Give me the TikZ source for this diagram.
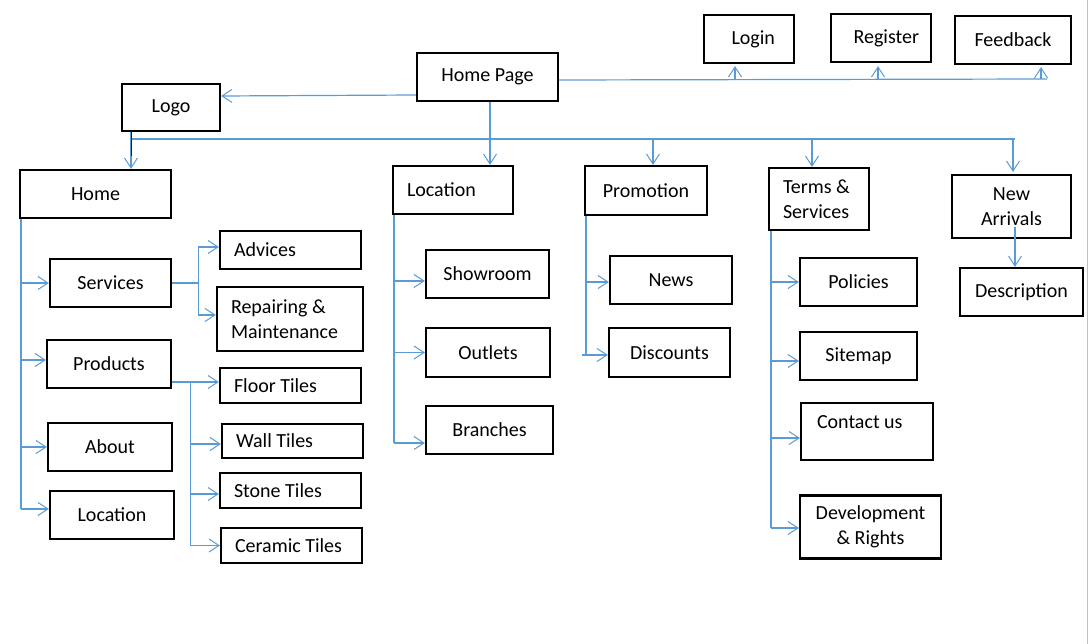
\documentclass[tikz,border=0pt]{standalone}
\usepackage{fontspec}
\setmainfont{Carlito}
\usetikzlibrary{arrows.meta, positioning}
\definecolor{linkblue}{HTML}{5B9BD5}

\begin{document}
\begin{tikzpicture}[x=1pt, y=-1pt,
		box/.style={draw, line width=2.2pt, inner sep=0pt, align=center},
		leftbox/.style={box, align=flush left, inner xsep=14pt, text width=#1},
		trunk/.style={draw=linkblue, line width=1.2pt},
		link/.style={trunk, -{Straight Barb[length=10pt, width=13pt, line width=1pt]}},
	]
	\fontsize{20}{25}\selectfont
	\useasboundingbox (0, 0) rectangle (1090, 644);
	\draw[black!25, line width=1.5pt] (1087.5, 0) -- (1087.5, 644);

	% top row
	\node[box, minimum width=141pt, minimum height=48pt] at (487.5, 77) (homepage) {Home Page};
	\node[box, minimum width=98pt, minimum height=47pt] at (171, 107.5) (logo) {Logo};
	\node[box, align=flush right, inner xsep=19pt, text width=52pt, minimum height=48pt] at (749, 39) (login) {Login};
	\node[box, align=flush right, inner xsep=12pt, text width=76pt, minimum height=48pt] at (881, 38) (register) {Register};
	\node[box, minimum width=116pt, minimum height=48pt] at (1013, 40) (feedback) {Feedback};

	% main sections
	\node[box, minimum width=151pt, minimum height=48pt] at (95.5, 194) (home) {Home};
	\node[leftbox=92pt, minimum height=48pt] at (453, 190) (loc-main) {Location};
	\node[box, minimum width=122pt, minimum height=49pt] at (646, 190.5) (promo) {Promotion};
	\node[leftbox=72pt, minimum height=62pt] at (819, 199) (terms) {Terms \&\\Services};
	\node[box, minimum width=119pt, minimum height=63pt] at (1011.5, 206.5) (new-arr) {New\\Arrivals};
	\node[box, minimum width=123pt, minimum height=48pt] at (1021.5, 292) (desc) {Description};

	% home
	\node[box, minimum width=121pt, minimum height=48pt] at (110.5, 283) (services) {Services};
	\node[box, minimum width=124pt, minimum height=48pt] at (109, 364) (products) {Products};
	\node[box, minimum width=124pt, minimum height=48pt] at (110, 447) (about) {About};
	\node[box, minimum width=124pt, minimum height=48pt] at (112, 515) (loc-home) {Location};
	\node[leftbox=113pt, minimum height=38pt] at (290.5, 250) (advices) {Advices};
	\node[leftbox=118pt, minimum height=64pt] at (290, 319) (repair) {Repairing \&\\Maintenance};
	\node[leftbox=113pt, minimum height=35pt] at (290.5, 385.5) (floor) {Floor Tiles};
	\node[leftbox=113pt, minimum height=34pt] at (292.5, 441) (wall) {Wall Tiles};
	\node[leftbox=113pt, minimum height=35pt] at (290.5, 490.5) (stone) {Stone Tiles};
	\node[leftbox=113pt, minimum height=35pt] at (291.5, 545.5) (ceramic) {Ceramic Tiles};

	% location, promotion
	\node[box, minimum width=123pt, minimum height=48pt] at (487.5, 274) (showroom) {Showroom};
	\node[box, minimum width=124pt, minimum height=49pt] at (488, 352.5) (outlets) {Outlets};
	\node[box, minimum width=127pt, minimum height=48pt] at (489.5, 430) (branches) {Branches};
	\node[box, minimum width=122pt, minimum height=48pt] at (671, 280) (news) {News};
	\node[box, minimum width=121pt, minimum height=49pt] at (669.5, 352.5) (discounts) {Discounts};

	% terms
	\node[box, minimum width=117pt, minimum height=48pt] at (858.5, 282) (policies) {Policies};
	\node[box, minimum width=117pt, minimum height=48pt] at (858.5, 356) (sitemap) {Sitemap};
	\node[leftbox=100pt, inner xsep=16pt, text depth=18pt, minimum height=57pt] at (867, 431.5) (contact) {Contact us};
	\node[box, minimum width=141pt, minimum height=63pt] at (870.5, 527) (devel) {Development\\\& Rights};

	% entry points of the links
	\coordinate (products-in) at ([yshift=4pt]products.west);
	\coordinate (loc-home-in) at ([yshift=6pt]loc-home.west);
	\coordinate (advices-in) at ([yshift=3pt]advices.west);
	\coordinate (repair-in) at ([yshift=4pt]repair.west);
	\coordinate (wall-in) at ([yshift=-3pt]wall.west);
	\coordinate (stone-in) at ([yshift=-3.5pt]stone.west);
	\coordinate (showroom-in) at ([yshift=-7pt]showroom.west);
	\coordinate (branches-in) at ([yshift=-13pt]branches.west);
	\coordinate (news-in) at ([yshift=-2pt]news.west);
	\coordinate (discounts-in) at ([yshift=-2.5pt]discounts.west);
	\coordinate (sitemap-in) at ([yshift=-5pt]sitemap.west);
	\coordinate (contact-in) at ([yshift=-6.5pt]contact.west);
	\coordinate (devel-in) at ([yshift=-1pt]devel.west);

	% links from home page
	\draw[link] ([yshift=-18pt]homepage.west) -- ([yshift=11.5pt]logo.east);
	\coordinate (top-end) at ([xshift=488pt, yshift=-2pt]homepage.east);
	\draw[trunk] ([yshift=-3pt]homepage.east) -- (top-end);
	\draw[link] ([xshift=-14pt]login.south |- top-end) -- ([xshift=-14pt, yshift=-2pt]login.south);
	\draw[link] ([xshift=-3pt]register.south |- top-end) -- ([xshift=-3pt, yshift=-3pt]register.south);
	\draw[link] ([xshift=28pt]feedback.south |- top-end) -- ([xshift=28pt, yshift=-2pt]feedback.south);
	\draw[link] ([xshift=2.5pt]homepage.south) -- ([xshift=37pt]loc-main.north);

	% bus under logo
	\coordinate (bus) at ([xshift=-40pt, yshift=-7pt]logo.south);
	\draw[trunk] (bus) -- ([xshift=3.5pt]new-arr.north |- bus);
	\draw[link] ([xshift=-40pt]logo.south) -- ([xshift=35.5pt]home.north);
	\draw[black!80!brown, line width=1pt] ([xshift=-40pt]logo.south) -- ++(0, 24);
	\draw[link] ([xshift=7pt]promo.north |- bus) -- ([xshift=7pt]promo.north);
	\draw[link] ([xshift=-7pt]terms.north |- bus) -- ([xshift=-7pt]terms.north);
	\draw[link] ([xshift=1.5pt]new-arr.north |- bus) -- ([xshift=1.5pt, yshift=2pt]new-arr.north);
	\draw[link] ([xshift=3.5pt, yshift=-20.5pt]new-arr.center) -- ([xshift=-6.5pt]desc.north);

	% home tree
	\coordinate (home-trunk) at ([xshift=-74.5pt]home.south);
	\draw[trunk] (home-trunk) -- (home-trunk |- loc-home-in);
	\draw[link] (home-trunk |- services.west) -- (services.west);
	\draw[link] (home-trunk |- products-in) -- (products-in);
	\draw[link] (home-trunk |- about.west) -- (about.west);
	\draw[link] (home-trunk |- loc-home-in) -- (loc-home-in);

	\coordinate (svc-fork) at ([xshift=26pt]services.east);
	\draw[link] (services.east) -| (svc-fork |- advices-in) -- (advices-in);
	\draw[link] (svc-fork) |- (repair-in);

	\coordinate (prod-fork) at ([xshift=18pt, yshift=-18pt]products.east);
	\draw[link] ([yshift=-18pt]products.east) -- (floor.west |- prod-fork);
	\draw[trunk] (prod-fork) -- (prod-fork |- ceramic.west);
	\draw[link] (prod-fork |- wall-in) -- (wall-in);
	\draw[link] (prod-fork |- stone-in) -- (stone-in);
	\draw[link] (prod-fork |- ceramic.west) -- (ceramic.west);

	% location tree
	\coordinate (loc-trunk) at ([xshift=-59pt]loc-main.south);
	\draw[trunk] (loc-trunk) -- (loc-trunk |- branches-in);
	\draw[link] (loc-trunk |- showroom-in) -- (showroom-in);
	\draw[link] (loc-trunk |- outlets.west) -- (outlets.west);
	\draw[link] (loc-trunk |- branches-in) -- (branches-in);

	% promotion tree
	\coordinate (promo-trunk) at ([xshift=-60pt]promo.south);
	\draw[trunk] (promo-trunk) -- (promo-trunk |- discounts-in);
	\draw[link] (promo-trunk |- news-in) -- (news-in);
	\draw[link] ([xshift=-4pt]promo-trunk |- discounts-in) -- (discounts-in);

	% terms tree
	\coordinate (terms-trunk) at ([xshift=-48pt]terms.south);
	\draw[trunk] (terms-trunk) -- (terms-trunk |- devel-in);
	\draw[link] (terms-trunk |- policies.west) -- (policies.west);
	\draw[link] (terms-trunk |- sitemap-in) -- (sitemap-in);
	\draw[link] (terms-trunk |- contact-in) -- (contact-in);
	\draw[link] (terms-trunk |- devel-in) -- (devel-in);
\end{tikzpicture}
\end{document}
